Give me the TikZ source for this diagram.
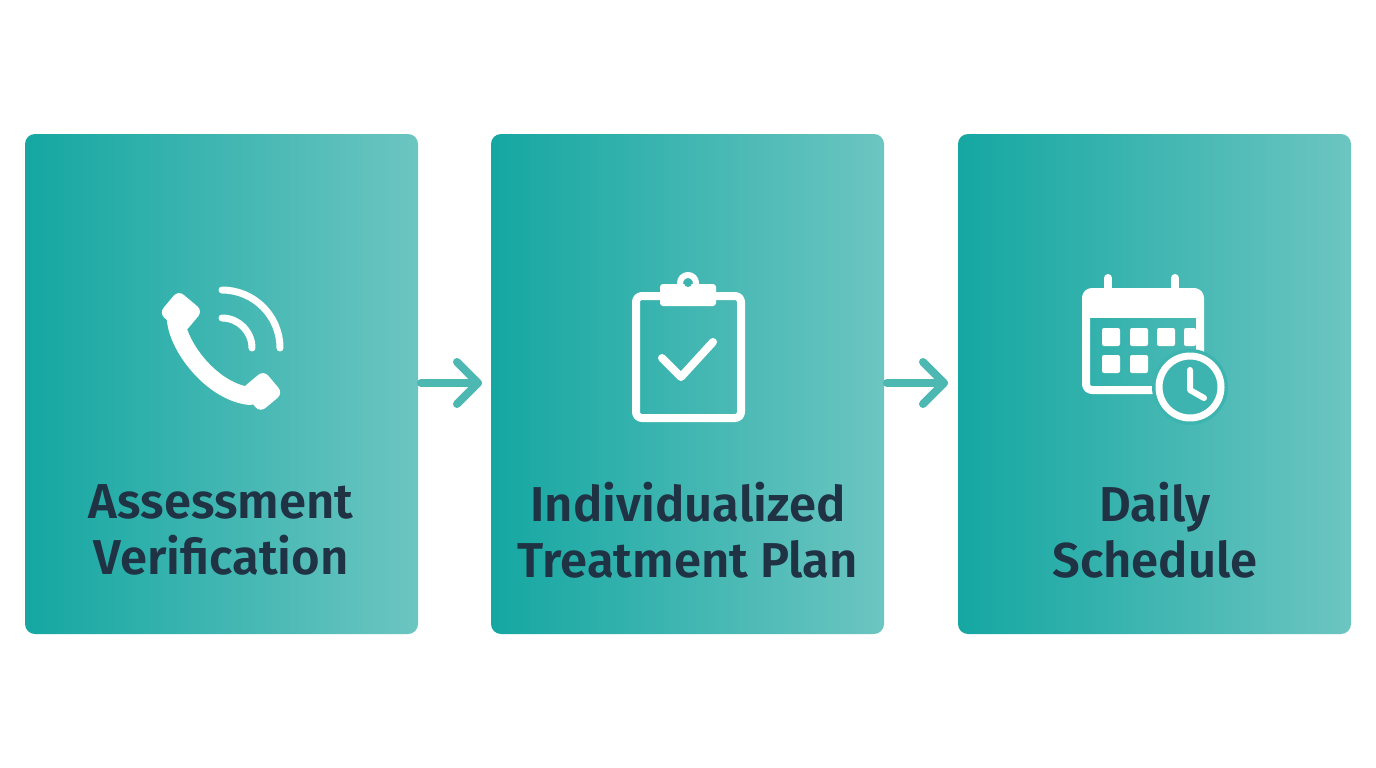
\documentclass[tikz,border=0pt]{standalone}
\usepackage{fontspec}
\usetikzlibrary{calc}
\setmainfont{Fira Sans}[BoldFont={Fira Sans SemiBold}]
\begin{document}
\begin{tikzpicture}[x=1pt,y=-1pt,
  box/.style={rounded corners=10pt,left color=tealL,right color=tealR,draw=none},
  lbl/.style={text=txt,font=\bfseries\fontsize{49}{56}\selectfont,align=center},
  arr/.style={draw=arrC,line width=8pt,line cap=round,line join=round},
  ic/.style={draw=white,line width=8pt,line cap=round,line join=round}]
\definecolor{tealL}{HTML}{15A7A2}
\definecolor{tealR}{HTML}{6CC5C1}
\definecolor{txt}{HTML}{1F3344}
\definecolor{arrC}{HTML}{4DB8B2}
\definecolor{mid}{HTML}{3DB4AF}
\useasboundingbox (0,0) rectangle (1376,768);
\fill[white] (0,0) rectangle (1376,768);
\path[box] (25,134) rectangle (418,634);
\path[box] (491,134) rectangle (884,634);
\path[box] (958,134) rectangle (1351,634);
\node (b1) at (221,384) {};
\node (b2) at (688,384) {};
\node (b3) at (1155,384) {};
\node[lbl] (t1) at (221,530) {Assessment\\Verification};
\node[lbl] (t2) at (688,530) {Individualized\\Treatment Plan};
\node[lbl] (t3) at (1155,530) {Daily\\Schedule};
% arrows
\coordinate (a1s) at (421,383); \coordinate (a1e) at (478,383);
\coordinate (a2s) at (887,383); \coordinate (a2e) at (944,383);
\draw[arr] (a1s) -- (a1e); \draw[arr] ($(a1e)+(-21,-21)$) -- (a1e) -- ($(a1e)+(-21,21)$);
\draw[arr] (a2s) -- (a2e); \draw[arr] ($(a2e)+(-21,-21)$) -- (a2e) -- ($(a2e)+(-21,21)$);
% phone
\draw[white,line width=18pt,line cap=round] (176,312) .. controls (172,340) and (210,392) .. (250,396);
\fill[white,rounded corners=7pt,rotate around={-40:(180,310)}] (166,296) rectangle (198,326);
\fill[white,rounded corners=7pt,rotate around={-50:(262,390)}] (248,376) rectangle (278,406);
\draw[ic,line width=7pt] (222,318) arc (-90:0:30);
\draw[ic,line width=7pt] (222,290) arc (-90:0:58);
% clipboard
\draw[ic,rounded corners=6pt] (662,296) -- (636,296) -- (636,418) -- (741,418) -- (741,296) -- (715,296);
\fill[white,rounded corners=3pt] (660,284) rectangle (716,306);
\draw[white,line width=6pt] (688,283) circle (8);
\fill[mid] (688,283) circle (4);
\draw[ic] (662,358) -- (681,377) -- (713,342);
% calendar
\draw[ic,rounded corners=6pt] (1086,292) rectangle (1200,390);
\fill[white] (1086,292) rectangle (1200,318);
\draw[ic] (1108,278) -- (1108,300);
\draw[ic] (1175,278) -- (1175,300);
\foreach \x in {1102,1130,1157}{\fill[white,rounded corners=2pt] (\x,328) rectangle ++(18,18);}
\foreach \x in {1102,1130}{\fill[white,rounded corners=2pt] (\x,355) rectangle ++(18,18);}
\fill[white,rounded corners=2pt] (1184,328) rectangle ++(12,18);
\fill[mid] (1190,387) circle (38);
\draw[ic,line width=7pt] (1190,387) circle (31);
\draw[ic,line width=6pt] (1190,370) -- (1190,390) -- (1204,398);
\end{tikzpicture}
\end{document}
